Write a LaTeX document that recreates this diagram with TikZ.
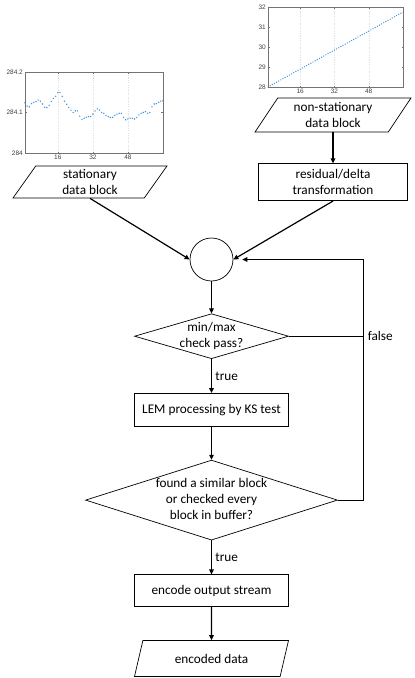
\documentclass[tikz,border=0pt]{standalone}
\usepackage{fontspec}
\setmainfont{Carlito}
\newfontfamily\axisfont{Liberation Sans}
\usetikzlibrary{shapes.geometric,positioning,arrows.meta}
\definecolor{dotblue}{RGB}{70,150,218}
\newcommand{\dlines}[1]{\makebox[0pt]{\begin{tabular}{@{}c@{}}#1\end{tabular}}}
\tikzset{
	x=1pt, y=-1pt, % picture measured in pixels, y going down
	>={Triangle[length=5pt,width=4.6pt]},
	node distance=33pt,
	every node/.style={font=\fontsize{13.25}{16}\selectfont},
	io/.style={draw, trapezium, trapezium left angle=48, trapezium right angle=132, trapezium stretches body, minimum width=154pt, minimum height=32pt, inner sep=0pt, align=center, line width=0.7pt},
	process/.style={draw, rectangle, minimum width=154pt, minimum height=33pt, inner sep=0pt, align=center, line width=0.7pt},
	decision/.style={draw, diamond, inner sep=0pt, line width=0.7pt},
	junction/.style={draw, circle, minimum size=43pt, inner sep=0pt, line width=0.7pt},
	flow/.style={->, line width=1.2pt},
	axisbox/.style={draw=black!55, line width=0.4pt},
	gridline/.style={draw=black!12, dash pattern=on 1.2pt off 1.2pt, line width=0.35pt},
	ticklabel/.style={font=\axisfont\fontsize{6.5}{7}\selectfont, text=black!75, inner sep=1pt},
	sample/.style={fill=dotblue},
}
\begin{document}
\begin{tikzpicture}
	\useasboundingbox (0,0) rectangle (415,678);
	
	% stationary block plot
	\begin{scope}[shift={(25,153)}, x=2.19pt, y=0.405pt]
		\foreach \t in {16,32,48} \draw[gridline] (\t-1,0) -- (\t-1,200);
		\foreach \v [count=\i] in {124,116,114,122,125,127,131,128,121,113,112,118,127,135,140,149,149,140,128,120,112,106,100,104,104,91,83,86,88,90,90,96,104,109,106,100,98,93,90,88,88,93,96,98,98,88,82,84,86,86,84,88,94,98,100,102,98,100,114,121,122,125,128,129}
			\fill[sample] (\i-1,\v) circle (0.8pt);
		\draw[axisbox] (0,0) rectangle (63,200);
		\foreach \t in {16,32,48} {
			\draw[axisbox] (\t-1,0) -- +(0pt,1.5pt) (\t-1,200) -- +(0pt,-1.5pt);
			\node[ticklabel, below=1pt] (sx\t) at (\t-1,0) {\t};
		}
		\foreach \v/\lab in {0/284, 100/284.1, 200/284.2} {
			\draw[axisbox] (0,\v) -- +(1.5pt,0pt) (63,\v) -- +(-1.5pt,0pt);
			\node[ticklabel, left=1pt] (sy\v) at (0,\v) {\lab};
		}
	\end{scope}
	
	% non-stationary block plot
	\begin{scope}[shift={(268,87)}, x=2.143pt, y=20pt]
		\foreach \t in {16,32,48} \draw[gridline] (\t-1,0) -- (\t-1,4);
		\foreach \i in {0,...,63}
			\fill[sample] (\i,\i*0.0595) circle (0.7pt);
		\draw[axisbox] (0,0) rectangle (63,4);
		\foreach \t in {16,32,48} {
			\draw[axisbox] (\t-1,0) -- +(0pt,1.5pt) (\t-1,4) -- +(0pt,-1.5pt);
			\node[ticklabel, below=1pt] (nx\t) at (\t-1,0) {\t};
		}
		\foreach \v in {0,...,4} {
			\draw[axisbox] (0,\v) -- +(1.5pt,0pt) (63,\v) -- +(-1.5pt,0pt);
			\pgfmathtruncatemacro{\lab}{28+\v}
			\node[ticklabel, left=1pt] (ny\v) at (0,\v) {\lab};
		}
	\end{scope}
	
	% flowchart
	\node[io] (stat) at (90,182) {stationary\\data block};
	\node[io, minimum width=156pt, minimum height=34pt] (nonstat) at (333,115) {non-stationary\\data block};
	\node[process, below=31pt of nonstat, minimum width=149pt, minimum height=37pt] (resid) {residual/delta\\transformation};
	\node[junction] (merge) at (211.5,259.5) {};
	\node[decision, below=32pt of merge, minimum width=154pt, minimum height=45pt] (minmax) {\dlines{min/max\\check pass?}};
	\node[process, below=34pt of minmax] (lem) {LEM processing by KS test};
	\node[decision, below=of lem, minimum width=252pt, minimum height=80pt] (search) {\dlines{found a similar block\\or checked every\\block in buffer?}};
	\node[process, below=34pt of search, minimum height=32pt] (enc) {encode output stream};
	\node[io, below=of enc, minimum height=36pt] (out) {encoded data};
	
	\draw[flow] (stat.south) -- (merge.west);
	\draw[flow] (nonstat.south) -- (resid);
	\draw[flow] (resid.south) -- (merge.east);
	\draw[flow] (merge) -- (minmax);
	\draw[flow] (minmax) -- node[right] (t1) {true} (lem);
	\draw[flow] (lem) -- (search);
	\draw[flow] (search) -- node[right] (t2) {true} (enc);
	\draw[flow] (enc) -- (out);
	\coordinate (back) at ([xshift=26pt]search.east);
	\draw[flow] (search.east) -- (back) |- ([xshift=9pt]merge.east);
	\draw[flow, -] (minmax.east) -- (minmax.east -| back) node[right] (f1) {false};
\end{tikzpicture}
\end{document}
